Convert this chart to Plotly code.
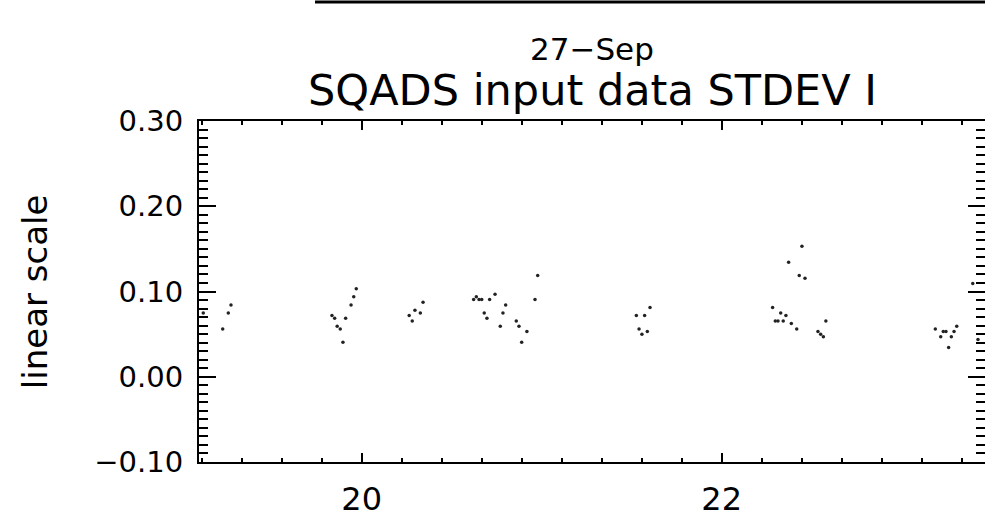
import plotly.graph_objects as go

# Hours (x) and STDEV values (y)
hours = [19.120, 19.228, 19.259, 19.274,
         19.835, 19.850, 19.864, 19.881, 19.896, 19.911, 19.941, 19.956, 19.970,
         20.264, 20.281, 20.296, 20.326, 20.341,
         20.622, 20.637, 20.652, 20.667, 20.681, 20.696, 20.711, 20.741, 20.770,
         20.785, 20.800, 20.859, 20.874, 20.889, 20.918, 20.963, 20.978,
         21.526, 21.541, 21.557, 21.572, 21.587, 21.602,
         22.283, 22.298, 22.313, 22.328, 22.342, 22.357, 22.372, 22.387, 22.417,
         22.431, 22.446, 22.463, 22.535, 22.550, 22.565, 22.579,
         23.187, 23.217, 23.231, 23.246, 23.261, 23.276, 23.291, 23.306, 23.395, 23.424]
stdev = [0.0749, 0.0561, 0.0749, 0.0843,
         0.0718, 0.0687, 0.0593, 0.0561, 0.0405, 0.0687, 0.0843, 0.0937, 0.1031,
         0.0718, 0.0655, 0.0781, 0.0749, 0.0875,
         0.0906, 0.0937, 0.0906, 0.0906, 0.0749, 0.0687, 0.0906, 0.0969, 0.0593,
         0.0749, 0.0843, 0.0655, 0.0593, 0.0405, 0.0530, 0.0906, 0.1188,
         0.0718, 0.0561, 0.0499, 0.0718, 0.0530, 0.0812,
         0.0812, 0.0655, 0.0655, 0.0749, 0.0655, 0.0718, 0.1344, 0.0624, 0.0561,
         0.1188, 0.1532, 0.1156, 0.0530, 0.0499, 0.0468, 0.0655,
         0.0561, 0.0468, 0.0530, 0.0530, 0.0343, 0.0468, 0.0530, 0.0593, 0.1094, 0.0437]

date_label = "27\u2212Sep"
title_text = "SQADS input data STDEV I"
y_title = "linear scale"
x_range = [19.0963, 23.463]
y_range = [-0.10, 0.30]

FONT = "DejaVu Sans"

fig = go.Figure()
fig.add_trace(go.Scatter(
    x=hours, y=stdev, mode="markers",
    marker=dict(size=3.5, color="#222222", line=dict(width=0)),
    showlegend=False, hoverinfo="skip",
))

fig.update_layout(
    width=985, height=528,
    margin=dict(l=199, r=0, t=121, b=66),
    paper_bgcolor="white", plot_bgcolor="white",
    font=dict(family=FONT, color="black"),
    showlegend=False,
)

fig.update_xaxes(
    range=x_range, showgrid=False, zeroline=False, automargin=False,
    showline=True, linecolor="black", linewidth=2, mirror="allticks",
    ticks="inside", tick0=20, dtick=2, ticklen=9, tickwidth=2, tickcolor="black",
    minor=dict(ticks="inside", tick0=20, dtick=2/9, ticklen=4, tickwidth=2, tickcolor="black", showgrid=False),
    tickfont=dict(family=FONT, size=32, color="black"),
    ticklabelstandoff=8,
)
fig.update_yaxes(
    range=y_range, showgrid=False, zeroline=False, automargin=False,
    showline=True, linecolor="black", linewidth=2, mirror="allticks",
    ticks="inside", tick0=0, dtick=0.1, ticklen=17, tickwidth=2, tickcolor="black",
    minor=dict(ticks="inside", tick0=0, dtick=0.01, ticklen=9, tickwidth=2, tickcolor="black", showgrid=False),
    tickformat=".2f",
    tickfont=dict(family=FONT, size=29, color="black"),
    ticklabelstandoff=8,
)

fig.add_annotation(text=date_label, xref="paper", yref="paper", x=0.5, y=1.211,
                   xanchor="center", yanchor="middle", showarrow=False,
                   font=dict(family=FONT, size=31, color="black"))
fig.add_annotation(text=title_text, xref="paper", yref="paper", x=0.5, y=1.090,
                   xanchor="center", yanchor="middle", showarrow=False,
                   font=dict(family=FONT, size=43, color="black"))
fig.add_annotation(text=y_title, xref="paper", yref="paper", x=-0.209, y=0.5,
                   xanchor="center", yanchor="middle", textangle=-90, showarrow=False,
                   font=dict(family=FONT, size=34, color="black"))

# partial border of the panel above
fig.add_shape(type="line", xref="paper", yref="paper", x0=0.1476, x1=1.02, y0=1.349, y1=1.349,
              line=dict(color="black", width=3))

# remove the default 8px page margin so the figure fills the window exactly
fig.write_html("out.html", config={"displayModeBar": False},
               post_script="document.body.style.margin='0';")
